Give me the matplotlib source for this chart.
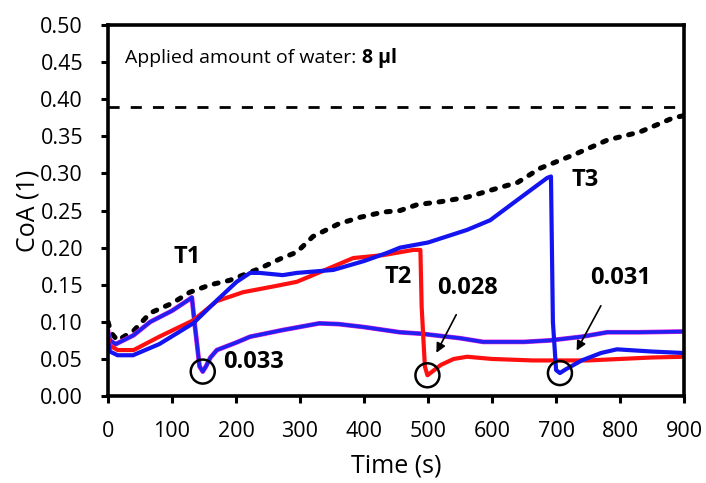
import matplotlib.pyplot as plt
from matplotlib.patches import Ellipse

plt.rcParams["font.family"] = ["Open Sans", "DejaVu Sans"]

# untreated reference (black dotted)
ref_t = [0, 5, 15, 40, 66, 100, 128, 160, 190, 237, 269, 295, 320, 360, 394,
         430, 456, 483, 520, 561, 600, 640, 675, 727, 780, 831, 883, 900]
ref_v = [0.100, 0.085, 0.075, 0.088, 0.112, 0.125, 0.140, 0.150, 0.156, 0.172,
         0.185, 0.194, 0.215, 0.232, 0.241, 0.248, 0.250, 0.258, 0.262, 0.268,
         0.278, 0.288, 0.307, 0.325, 0.345, 0.356, 0.375, 0.378]

# treatment at T1
t1_t = [0, 3, 12, 40, 66, 100, 128, 131, 135, 143, 148, 153, 160, 170, 200, 222,
        273, 330, 360, 400, 456, 490, 550, 586, 650, 690, 740, 780, 830, 900]
t1_v = [0.088, 0.075, 0.070, 0.082, 0.100, 0.115, 0.131, 0.133, 0.100, 0.040,
        0.033, 0.040, 0.052, 0.062, 0.072, 0.080, 0.089, 0.098, 0.097, 0.093,
        0.086, 0.084, 0.078, 0.073, 0.073, 0.075, 0.080, 0.086, 0.086, 0.087]

# treatment at T2
t2_t = [0, 3, 15, 40, 80, 133, 170, 211, 260, 295, 320, 383, 430, 477, 488, 490,
        495, 499, 505, 520, 540, 561, 600, 664, 750, 800, 850, 900]
t2_v = [0.080, 0.068, 0.062, 0.062, 0.080, 0.102, 0.128, 0.140, 0.148, 0.154,
        0.163, 0.186, 0.190, 0.197, 0.197, 0.120, 0.040, 0.028, 0.032, 0.042,
        0.050, 0.053, 0.050, 0.048, 0.048, 0.050, 0.052, 0.053]

# treatment at T3
t3_t = [0, 3, 15, 39, 80, 133, 170, 201, 222, 237, 273, 295, 352, 400, 436, 456,
        500, 561, 597, 639, 686, 692, 695, 700, 706, 715, 740, 770, 795, 850, 900]
t3_v = [0.075, 0.060, 0.055, 0.055, 0.070, 0.098, 0.129, 0.154, 0.166, 0.166,
        0.163, 0.166, 0.170, 0.182, 0.193, 0.200, 0.207, 0.224, 0.237, 0.264,
        0.294, 0.296, 0.100, 0.035, 0.031, 0.036, 0.048, 0.058, 0.063, 0.060,
        0.058]

limit_coa = 0.39
minima = [(148, 0.033), (499, 0.028), (706, 0.031)]

fig = plt.figure(figsize=(7.06, 4.83), dpi=100)
ax = fig.add_axes([0.153, 0.180, 0.816, 0.768])

ax.axhline(limit_coa, color="black", lw=2, dashes=(4, 4))
ax.plot(ref_t, ref_v, color="black", lw=3.6, dashes=(0.8, 1.9),
        dash_capstyle="round")
ax.plot(t1_t, t1_v, color="#e020e0", lw=3.4, solid_joinstyle="round")
ax.plot(t1_t, t1_v, color="#2020f0", lw=2.6, solid_joinstyle="round")
ax.plot(t2_t, t2_v, color="#ff1010", lw=3, solid_joinstyle="round")
ax.plot(t3_t, t3_v, color="#1414f0", lw=3, solid_joinstyle="round")

# circles round each minimum (ellipse so it stays round in pixels)
rx = 12 / (576 / 900)
ry = 12 / (371 / 0.5)
for t, v in minima:
    ax.add_patch(Ellipse((t, v), 2 * rx, 2 * ry, fill=False, ec="black", lw=1.8, zorder=5))

bold = dict(fontsize=17, fontweight="bold")
ax.text(123, 0.187, "T1", ha="center", va="center", **bold)
ax.text(453, 0.160, "T2", ha="center", va="center", **bold)
ax.text(745, 0.291, "T3", ha="center", va="center", **bold)
ax.text(180, 0.046, "0.033", ha="left", va="center", **bold)
ax.text(561, 0.146, "0.028", ha="center", va="center", **bold)
ax.text(800, 0.159, "0.031", ha="center", va="center", **bold)

arrow = dict(arrowstyle="-|>", color="black", lw=1.2, mutation_scale=14)
ax.annotate("", xy=(511, 0.055), xytext=(546, 0.113), arrowprops=arrow)
ax.annotate("", xy=(730, 0.058), xytext=(772, 0.125), arrowprops=arrow)

note = ax.text(27, 0.456, "Applied amount of water: ", fontsize=14, va="center")
ax.annotate("8 µl", xy=(1, 0.5), xycoords=note, va="center",
            fontsize=14, fontweight="bold")

ax.set_xlim(0, 900)
ax.set_ylim(0, 0.5)
ax.set_xticks(range(0, 901, 100))
ax.set_yticks([i * 0.05 for i in range(11)])
ax.set_yticklabels([f"{i * 0.05:.2f}" for i in range(11)])
ax.tick_params(direction="out", length=5, width=2.2, labelsize=15.5, pad=13)
for s in ax.spines.values():
    s.set_linewidth(2.6)
ax.set_xlabel("Time (s)", fontsize=18, labelpad=8)
ax.set_ylabel("CoA (1)", fontsize=18, labelpad=0)

fig.savefig("out.png", dpi=100)
